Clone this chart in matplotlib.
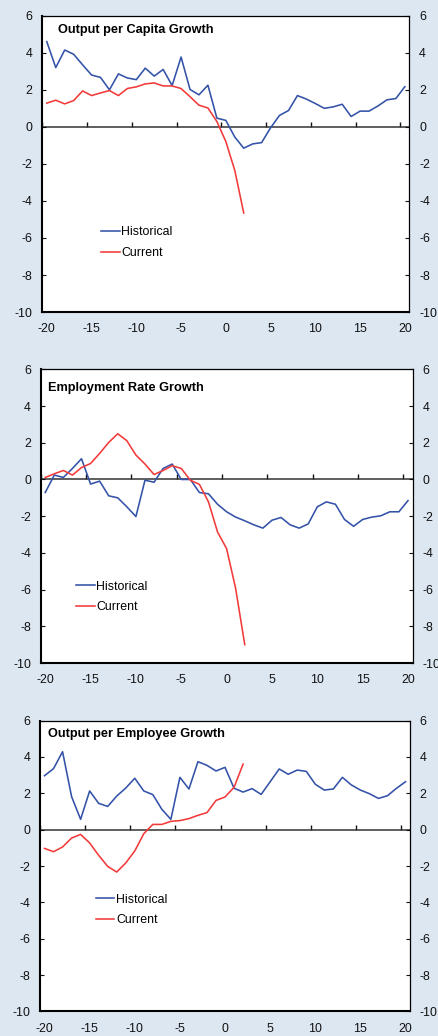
import numpy as np
import matplotlib
matplotlib.use("Agg")
import matplotlib.pyplot as plt

plt.rcParams['font.family'] = ['Liberation Sans', 'DejaVu Sans']
plt.rcParams['axes.unicode_minus'] = False

BG = '#dde7f2'
BLUE = '#3352a8'
RED = '#f23a3a'

# Quarters around the reference point
hist_x = np.arange(-20, 21)
curr_x = np.arange(-20, 3)

titles = ['Output per Capita Growth', 'Employment Rate Growth', 'Output per Employee Growth']

# Output per capita growth
cap_hist = [4.6, 3.2, 4.15, 3.92, 3.35, 2.8, 2.67, 2.0, 2.86, 2.64, 2.55, 3.17, 2.74, 3.1,
            2.23, 3.77, 2.02, 1.73, 2.25, 0.47, 0.35, -0.55, -1.15, -0.92, -0.85, -0.05,
            0.62, 0.88, 1.69, 1.5, 1.26, 1.0, 1.08, 1.22, 0.56, 0.85, 0.85, 1.13, 1.46,
            1.53, 2.17]
cap_curr = [1.28, 1.44, 1.24, 1.42, 1.94, 1.69, 1.83, 1.96, 1.69, 2.07, 2.16, 2.32, 2.37,
            2.21, 2.21, 2.07, 1.63, 1.17, 1.02, 0.29, -0.79, -2.35, -4.65]

# Employment rate growth
emp_hist = [-0.71, 0.24, 0.11, 0.6, 1.13, -0.25, -0.09, -0.89, -1.0, -1.49, -2.02, -0.04,
            -0.15, 0.6, 0.84, 0.0, 0.0, -0.71, -0.78, -1.35, -1.76, -2.05, -2.25, -2.47,
            -2.65, -2.22, -2.07, -2.47, -2.65, -2.42, -1.49, -1.22, -1.35, -2.18, -2.55,
            -2.18, -2.05, -1.98, -1.76, -1.76, -1.15]
emp_curr = [0.11, 0.31, 0.49, 0.24, 0.65, 0.87, 1.42, 2.02, 2.49, 2.11, 1.33, 0.84, 0.27,
            0.49, 0.75, 0.6, -0.04, -0.27, -1.22, -2.86, -3.77, -5.95, -9.0]

# Output per employee growth
ope_hist = [2.97, 3.36, 4.29, 1.82, 0.57, 2.13, 1.45, 1.28, 1.85, 2.29, 2.83, 2.13, 1.93,
            1.12, 0.57, 2.88, 2.24, 3.74, 3.54, 3.23, 3.43, 2.28, 2.07, 2.26, 1.94, 2.64,
            3.34, 3.05, 3.28, 3.21, 2.5, 2.18, 2.24, 2.88, 2.46, 2.18, 1.98, 1.72, 1.87,
            2.28, 2.64]
ope_curr = [-1.03, -1.21, -0.95, -0.46, -0.26, -0.73, -1.41, -2.02, -2.33, -1.83, -1.17,
            -0.22, 0.29, 0.29, 0.46, 0.5, 0.61, 0.79, 0.94, 1.61, 1.8, 2.33, 3.61]

hist_series = [cap_hist, emp_hist, ope_hist]
curr_series = [cap_curr, emp_curr, ope_curr]

# panel rectangles, legend anchors, title anchors
rects = [[0.0964, 0.6988, 0.836, 0.286],
         [0.0927, 0.360, 0.847, 0.2835],
         [0.0911, 0.0237, 0.843, 0.2807]]
leg_pos = [(0.16, 0.234), (0.095, 0.225), (0.15, 0.349)]
title_pos = [(0.043, 0.942), (0.0205, 0.926), (0.0208, 0.945)]

fig = plt.figure(figsize=(4.39, 10.36), dpi=100)
fig.patch.set_facecolor(BG)

for i in range(3):
    ax = fig.add_axes(rects[i])
    ax.set_facecolor('white')
    ax.plot(hist_x, hist_series[i], color=BLUE, lw=1.15, label='Historical')
    ax.plot(curr_x, curr_series[i], color=RED, lw=1.15, label='Current')
    ax.axhline(0, color='#333333', lw=1.1, zorder=1)

    ax.set_xlim(-20.5, 20.5)
    ax.set_ylim(-10, 6)
    ax.set_xticks(np.arange(-20, 21, 5))
    ax.set_yticks(np.arange(-10, 7, 2))
    ax.tick_params(axis='x', length=0, pad=8, labelsize=8.9, colors='#111111')
    ax.tick_params(axis='y', direction='in', length=3, width=0.8, pad=7,
                   labelsize=8.9, right=True, labelright=True, colors='#111111')

    for side in ['left', 'bottom']:
        ax.spines[side].set_linewidth(1.5)
    for side in ['top', 'right']:
        ax.spines[side].set_linewidth(0.9)

    # category-boundary ticks sitting on the zero line
    zx = ax.secondary_xaxis(10 / 16)
    zx.set_xticks(np.arange(-20.5, 21, 5))
    zx.tick_params(axis='x', direction='out', length=3.5, width=1.0,
                   labeltop=False, labelbottom=False, colors='#111111')
    zx.spines['top'].set_visible(False)
    zx.spines['bottom'].set_visible(False)

    ax.text(title_pos[i][0], title_pos[i][1], titles[i], transform=ax.transAxes,
            fontsize=9.2, fontweight='bold', va='baseline', ha='left')

    ax.legend(loc='center left', bbox_to_anchor=leg_pos[i], frameon=False,
              fontsize=8.9, handlelength=1.5, handletextpad=0.15,
              labelspacing=0.7, borderpad=0, borderaxespad=0)

fig.savefig('out.png', dpi=100, facecolor=BG)
